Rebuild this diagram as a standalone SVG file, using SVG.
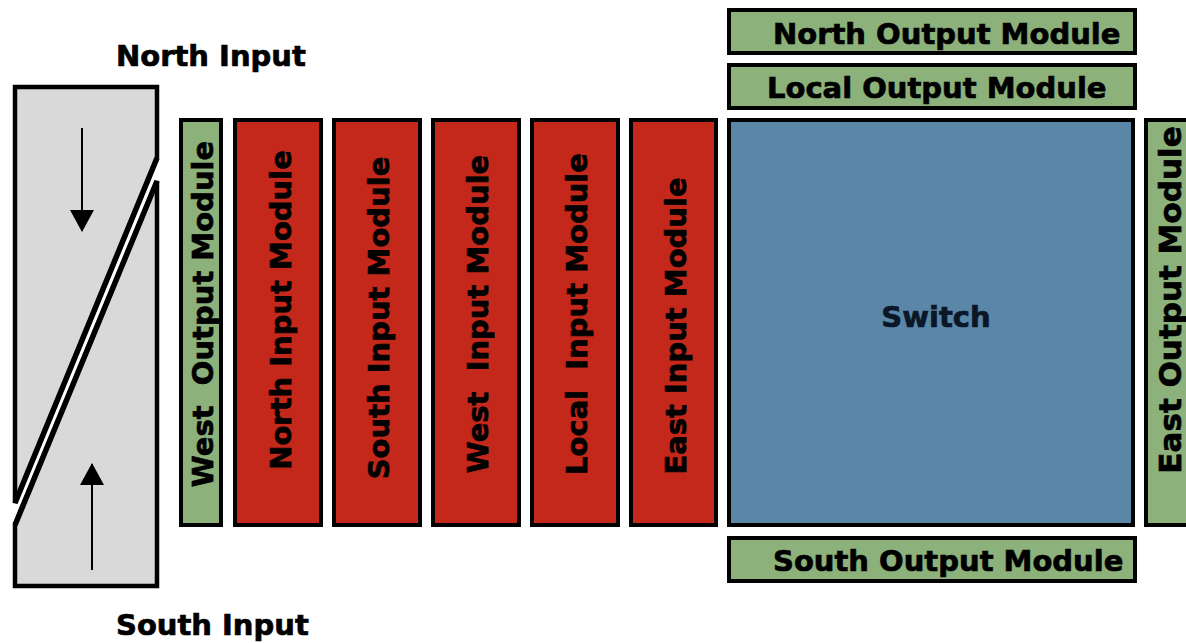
<svg xmlns="http://www.w3.org/2000/svg" width="1186" height="643" viewBox="0 0 1186 643">
<style>
  text { font-family: "DejaVu Sans", Verdana, sans-serif; font-weight: bold; fill: #000; stroke: #000; stroke-width: 0.7; white-space: pre; }
  .lbl { font-size: 29px; }
  .vt { font-size: 29px; text-anchor: middle; }
  .green { fill: #8cb17b; stroke: #000; stroke-width: 4; }
  .red { fill: #c3281b; stroke: #000; stroke-width: 4; }
  .blue { fill: #5a87a8; stroke: #000; stroke-width: 4; }
  .gray { fill: #d9d9d9; stroke: #000; stroke-width: 4.5; stroke-linejoin: miter; }
  .diag { stroke: #000; stroke-width: 5.5; fill: none; }
  .arrow { stroke: #000; stroke-width: 2; fill: none; }
</style>
<defs>
  <marker id="ah" markerWidth="22" markerHeight="24" refX="21" refY="12" orient="auto" markerUnits="userSpaceOnUse">
    <path d="M0,0 L22,12 L0,24 Z" fill="#000"/>
  </marker>
</defs>
<rect width="1186" height="643" fill="#fff"/>

<g id="input-mux">
  <polygon class="gray" points="15,87 157,87 157,158 15,503"/>
  <polygon class="gray" points="157,181 157,586 15,586 15,525"/>
  <line class="diag" x1="157" y1="158" x2="15" y2="503"/>
  <line class="diag" x1="157" y1="181" x2="15" y2="525"/>
</g>

<g id="north-input-label"><text class="lbl" x="116" y="66">North Input</text></g>
<g id="south-input-label"><text class="lbl" x="116" y="635">South Input</text></g>

<g id="west-output"><rect class="green" x="181" y="120" width="40" height="405"/>
  <text class="vt" transform="translate(213,314) rotate(-90)">West  Output Module</text></g>
<g id="north-input"><rect class="red" x="235" y="120" width="86" height="405"/>
  <text class="vt" transform="translate(291,310) rotate(-90)">North Input Module</text></g>
<g id="south-input"><rect class="red" x="334" y="120" width="86" height="405"/>
  <text class="vt" transform="translate(389,318) rotate(-90)">South Input Module</text></g>
<g id="west-input"><rect class="red" x="433" y="120" width="86" height="405"/>
  <text class="vt" transform="translate(488,314) rotate(-90)">West  Input Module</text></g>
<g id="local-input"><rect class="red" x="532" y="120" width="86" height="405"/>
  <text class="vt" transform="translate(587,314) rotate(-90)">Local  Input Module</text></g>
<g id="east-input"><rect class="red" x="631" y="120" width="85" height="405"/>
  <text class="vt" transform="translate(686,326) rotate(-90)">East Input Module</text></g>

<g id="switch"><rect class="blue" x="729" y="120" width="404" height="405"/>
  <text x="936" y="327" font-size="29" text-anchor="middle" style="fill:#0b1626;stroke:#0b1626">Switch</text></g>

<g id="north-output"><rect class="green" x="729" y="10" width="406" height="43"/>
  <text class="lbl" x="773" y="44">North Output Module</text></g>
<g id="local-output"><rect class="green" x="729" y="65" width="406" height="43"/>
  <text class="lbl" x="767" y="98">Local Output Module</text></g>
<g id="south-output"><rect class="green" x="729" y="538" width="406" height="43"/>
  <text class="lbl" x="773" y="571">South Output Module</text></g>
<g id="east-output"><rect class="green" x="1146" y="120" width="50" height="405"/>
  <text class="vt" transform="translate(1181,300) rotate(-90)" style="font-size:31px">East Output Module</text></g>

<g id="connectors">
  <line class="arrow" x1="82" y1="128" x2="82" y2="231" marker-end="url(#ah)"/>
  <line class="arrow" x1="92" y1="570" x2="92" y2="464" marker-end="url(#ah)"/>
</g>
</svg>
